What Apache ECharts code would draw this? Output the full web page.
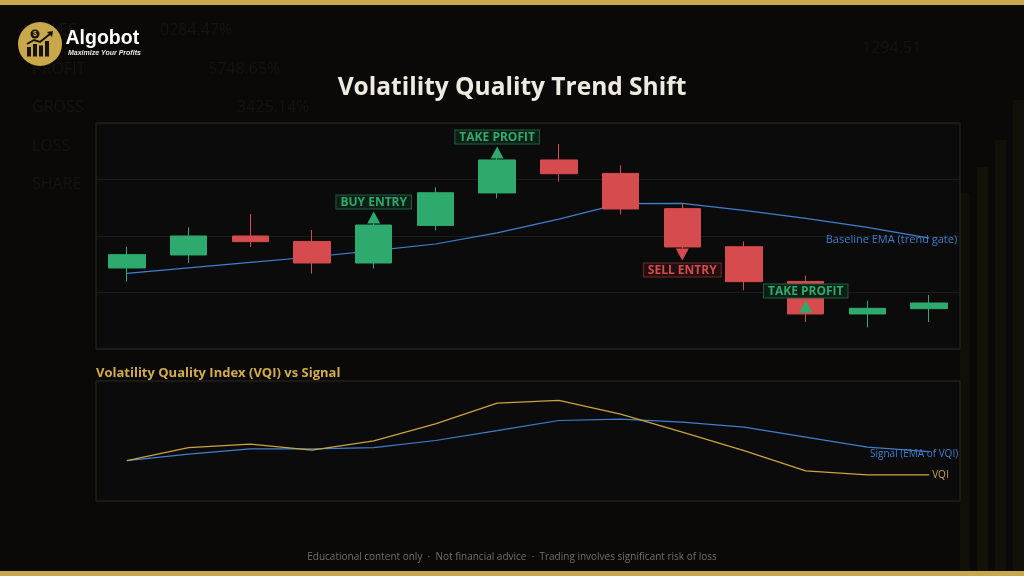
<!DOCTYPE html>
<html>
<head>
<meta charset="utf-8">
<script src="https://cdn.jsdelivr.net/npm/echarts@6/dist/echarts.min.js"></script>
<style>
html,body{margin:0;padding:0;background:#0a0908;}
#chart{width:1024px;height:576px;}
</style>
</head>
<body>
<div id="chart"></div>
<script>
// ---- Data ----
const categories = ['1','2','3','4','5','6','7','8','9','10','11','12','13','14'];
const openValues  = [97.17, 98.32, 100.00, 99.52, 97.61, 100.94, 103.81, 106.73, 105.54, 102.42, 99.05, 95.98, 93.10, 93.57];
const closeValues = [98.35, 100.00, 99.50, 97.61, 100.97, 103.83, 106.73, 105.51, 102.39, 99.03, 95.96, 93.10, 93.60, 94.07];
const lowValues   = [95.96, 97.61, 99.03, 96.66, 97.13, 100.50, 103.33, 104.81, 101.91, 98.90, 95.19, 92.39, 91.91, 92.39];
const highValues  = [99.05, 100.76, 101.95, 100.53, 101.10, 104.30, 106.90, 108.14, 106.25, 102.92, 99.52, 96.49, 94.27, 94.78];
const baselineEma = [96.69, 97.18, 97.66, 98.14, 98.70, 99.29, 100.27, 101.50, 102.86, 102.89, 102.27, 101.56, 100.76, 99.82];
const vqiValues    = [33.7, 44.5, 47.4, 42.4, 50.1, 64.3, 81.6, 83.8, 72.4, 57.4, 42.0, 25.1, 21.7, 21.7];
const signalValues = [33.7, 39.0, 43.4, 43.4, 44.5, 50.4, 58.7, 67.1, 68.3, 65.7, 61.6, 53.2, 44.9, 41.2];
const tradeIndex = [4, 6, 9, 11];
const tradeText  = ['BUY ENTRY', 'TAKE PROFIT', 'SELL ENTRY', 'TAKE PROFIT'];
const tradeDir   = ['up', 'up', 'down', 'up'];

// ---- Styles ----
const GREEN = '#2eaa6e', RED = '#d64b4e', BLUE = '#3f7fcf', GOLD = '#c9a43f';
const FONT = 'Open Sans';

const candleData = categories.map((c, i) => [openValues[i], closeValues[i], lowValues[i], highValues[i]]);

const markData = tradeIndex.map((idx, k) => {
  const up = tradeDir[k] === 'up';
  const isRed = tradeText[k] === 'SELL ENTRY';
  const col = isRed ? RED : GREEN;
  return {
    coord: [idx, closeValues[idx]],
    symbol: 'triangle',
    symbolSize: [13, 12],
    symbolRotate: up ? 0 : 180,
    symbolOffset: [0, up ? -7.5 : 7.5],
    itemStyle: { color: col },
    label: {
      show: true,
      formatter: tradeText[k],
      position: up ? 'top' : 'bottom',
      distance: 3,
      color: col,
      fontFamily: FONT,
      fontWeight: 'bold',
      fontSize: 12,
      lineHeight: 12,
      padding: [1, 4, 0, 4],
      backgroundColor: isRed ? '#221010' : '#0d2016',
      borderColor: isRed ? '#6e2a2b' : '#1f5e3f',
      borderWidth: 1
    }
  };
});

function withEndLabel(arr, labelCfg) {
  return arr.map((v, i) => i === arr.length - 1 ? { value: v, label: Object.assign({ show: true }, labelCfg) } : v);
}

const bgTexts = [
  ['SALES', 32, 30], ['0284.47%', 160, 30], ['PROFIT', 32, 69], ['5748.65%', 208, 69],
  ['GROSS', 32, 107], ['3425.14%', 237, 107], ['LOSS', 32, 146], ['SHARE', 32, 184], ['1294.51', 862, 48]
];

const graphics = [
  { type: 'rect', shape: { x: 960, y: 193, width: 10, height: 383 }, style: { fill: '#100f08' }, z: -10 },
  { type: 'rect', shape: { x: 977, y: 167, width: 11, height: 409 }, style: { fill: '#131108' }, z: -10 },
  { type: 'rect', shape: { x: 995, y: 140, width: 11, height: 436 }, style: { fill: '#121009' }, z: -10 },
  { type: 'rect', shape: { x: 1013, y: 100, width: 11, height: 476 }, style: { fill: '#110f08' }, z: -10 },
  { type: 'rect', shape: { x: 0, y: 0, width: 1024, height: 5 }, style: { fill: '#c9a84c' }, z: 10 },
  { type: 'rect', shape: { x: 0, y: 571, width: 1024, height: 5 }, style: { fill: '#c9a84c' }, z: 10 },
  // logo
  { type: 'circle', shape: { cx: 40, cy: 44, r: 22 }, style: { fill: '#c9a84c' }, z: 10 },
  { type: 'rect', shape: { x: 27, y: 47, width: 4, height: 9.5 }, style: { fill: '#17130a' }, z: 11 },
  { type: 'rect', shape: { x: 33, y: 44, width: 4, height: 12.5 }, style: { fill: '#17130a' }, z: 11 },
  { type: 'rect', shape: { x: 39, y: 45.5, width: 4, height: 11 }, style: { fill: '#17130a' }, z: 11 },
  { type: 'rect', shape: { x: 45, y: 41, width: 4, height: 15.5 }, style: { fill: '#17130a' }, z: 11 },
  { type: 'polyline', shape: { points: [[27, 44], [34, 40], [40, 42], [50, 34]] }, style: { stroke: '#17130a', lineWidth: 2, fill: null }, z: 11 },
  { type: 'polygon', shape: { points: [[47, 32], [53, 31], [52, 37]] }, style: { fill: '#17130a' }, z: 11 },
  { type: 'circle', shape: { cx: 35, cy: 34, r: 4.5 }, style: { fill: '#17130a' }, z: 11 },
  { type: 'text', x: 35, y: 34, style: { text: '$', fill: '#c9a84c', fontSize: 7, fontWeight: 'bold', fontFamily: 'Liberation Sans', align: 'center', verticalAlign: 'middle' }, z: 12 },
  { type: 'text', x: 65.5, y: 38.5, style: { text: 'Algobot', fill: '#ffffff', fontSize: 19.5, fontWeight: 'bold', fontFamily: 'Liberation Sans', verticalAlign: 'middle' }, z: 11 },
  { type: 'text', x: 68, y: 53.5, style: { text: 'Maximize Your Profits', fill: '#e8e8e8', fontSize: 7, fontWeight: 'bold', fontStyle: 'italic', fontFamily: 'Liberation Sans', verticalAlign: 'middle' }, z: 11 }
];
bgTexts.forEach(t => graphics.push({ type: 'text', x: t[1], y: t[2], z: -10,
  style: { text: t[0], fill: '#151413', fontSize: 16, fontFamily: FONT, verticalAlign: 'middle' } }));

const chart = echarts.init(document.getElementById('chart'));
chart.setOption({
  animation: false,
  backgroundColor: '#0a0908',
  textStyle: { fontFamily: FONT },
  title: [
    { text: 'Volatility Quality Trend Shift', left: 'center', top: 76, padding: 0,
      textStyle: { color: '#f0ebe0', fontSize: 24.5, fontWeight: 'bold', fontFamily: FONT } },
    { text: 'Volatility Quality Index (VQI) vs Signal', left: 96, top: 367, padding: 0,
      textStyle: { color: '#d4ac4a', fontSize: 13, fontWeight: 'bold', fontFamily: FONT } },
    { text: 'Educational content only  ·  Not financial advice  ·  Trading involves significant risk of loss', left: 'center', top: 552, padding: 0,
      textStyle: { color: '#6f6f6f', fontSize: 10, fontWeight: 'normal', fontFamily: FONT } }
  ],
  graphic: graphics,
  grid: [
    { left: 96, top: 123, width: 864, height: 226, show: true, backgroundColor: '#0b0b0b', borderColor: '#2e2a1d', borderWidth: 1 },
    { left: 96, top: 381, width: 864, height: 120, show: true, backgroundColor: '#0b0b0b', borderColor: '#2e2a1d', borderWidth: 1 }
  ],
  xAxis: [
    { type: 'category', gridIndex: 0, data: categories, boundaryGap: true,
      axisLine: { show: false }, axisTick: { show: false }, axisLabel: { show: false }, splitLine: { show: false } },
    { type: 'category', gridIndex: 1, data: categories, boundaryGap: true,
      axisLine: { show: false }, axisTick: { show: false }, axisLabel: { show: false }, splitLine: { show: false } }
  ],
  yAxis: [
    { type: 'value', gridIndex: 0, min: 90, max: 110, interval: 5,
      axisLine: { show: false }, axisTick: { show: false }, axisLabel: { show: false },
      splitLine: { show: true, lineStyle: { color: '#1c1c1c', width: 1 } } },
    { type: 'value', gridIndex: 1, min: 0, max: 100,
      axisLine: { show: false }, axisTick: { show: false }, axisLabel: { show: false }, splitLine: { show: false } }
  ],
  series: [
    { name: 'Baseline EMA', type: 'line', xAxisIndex: 0, yAxisIndex: 0,
      data: withEndLabel(baselineEma, { position: 'inside', align: 'right', offset: [28, 2], formatter: 'Baseline EMA (trend gate)', color: BLUE, fontSize: 11, fontFamily: FONT }),
      showSymbol: true, symbol: 'circle', symbolSize: 0.01, smooth: false,
      lineStyle: { color: BLUE, width: 1.2 }, itemStyle: { color: BLUE }, z: 2 },
    { name: 'Price', type: 'candlestick', xAxisIndex: 0, yAxisIndex: 0, data: candleData, barWidth: 37,
      itemStyle: { color: GREEN, color0: RED, borderColor: GREEN, borderColor0: RED, borderWidth: 1 },
      markPoint: { data: markData, z: 5 }, z: 3 },
    { name: 'Signal', type: 'line', xAxisIndex: 1, yAxisIndex: 1,
      data: withEndLabel(signalValues, { position: 'inside', align: 'right', offset: [29, 3], formatter: 'Signal (EMA of VQI)', color: BLUE, fontSize: 10, fontFamily: FONT }),
      showSymbol: true, symbol: 'circle', symbolSize: 0.01,
      lineStyle: { color: BLUE, width: 1.2 }, itemStyle: { color: BLUE } },
    { name: 'VQI', type: 'line', xAxisIndex: 1, yAxisIndex: 1,
      data: withEndLabel(vqiValues, { position: 'right', distance: 3, formatter: 'VQI', color: GOLD, fontSize: 10, fontFamily: FONT }),
      showSymbol: true, symbol: 'circle', symbolSize: 0.01,
      lineStyle: { color: GOLD, width: 1.3 }, itemStyle: { color: GOLD } }
  ]
});
</script>
</body>
</html>
